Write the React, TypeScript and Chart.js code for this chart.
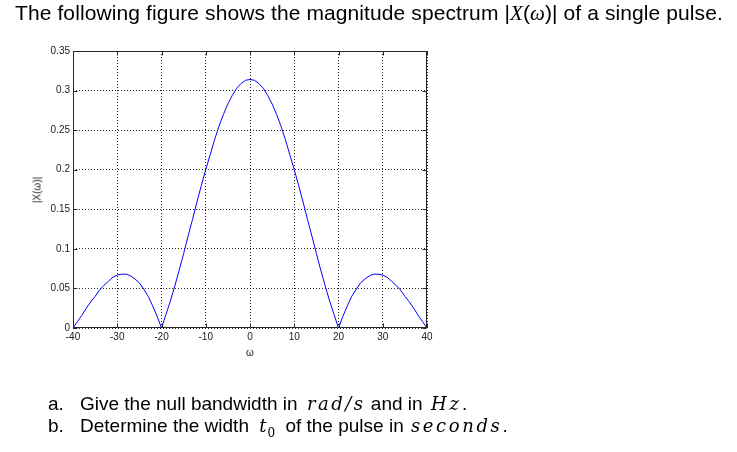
import React, { useEffect, useRef } from "react";
import { Chart, registerables } from "chart.js";

Chart.register(...registerables);

// ω values (rad/s)
const omega = [
  -40, -39, -38, -37, -36, -35, -34, -33, -32, -31, -30, -29, -28, -27, -26, -25, -24, -23, -22, -21,
  -20, -19, -18, -17, -16, -15, -14, -13, -12, -11, -10, -9, -8, -7, -6, -5, -4, -3, -2, -1,
  0, 1, 2, 3, 4, 5, 6, 7, 8, 9, 10, 11, 12, 13, 14, 15, 16, 17, 18, 19,
  20, 21, 22, 23, 24, 25, 26, 27, 28, 29, 30, 31, 32, 33, 34, 35, 36, 37, 38, 39, 40,
];

// |X(ω)|
const magnitude = [
  0.000, 0.008, 0.016, 0.025, 0.033, 0.040, 0.048, 0.054, 0.059, 0.064, 0.067, 0.068, 0.068, 0.066, 0.062, 0.057, 0.049, 0.040, 0.028, 0.015,
  0.000, 0.017, 0.034, 0.053, 0.073, 0.094, 0.116, 0.137, 0.159, 0.180, 0.200, 0.219, 0.238, 0.255, 0.270, 0.283, 0.294, 0.303, 0.309, 0.313,
  0.314, 0.313, 0.309, 0.303, 0.294, 0.283, 0.270, 0.255, 0.238, 0.219, 0.200, 0.180, 0.159, 0.137, 0.116, 0.094, 0.073, 0.053, 0.034, 0.017,
  0.000, 0.015, 0.028, 0.040, 0.049, 0.057, 0.062, 0.066, 0.068, 0.068, 0.067, 0.064, 0.059, 0.054, 0.048, 0.040, 0.033, 0.025, 0.016, 0.008, 0.000,
];

const xTicks = [-40, -30, -20, -10, 0, 10, 20, 30, 40];
const yTicks = [0, 0.05, 0.1, 0.15, 0.2, 0.25, 0.3, 0.35];

const TICK_FONT = "Liberation Sans, Arial, sans-serif";

const framePlugin = {
  id: "matlabFrame",
  afterDraw(chart: any) {
    const { ctx, chartArea: a, scales } = chart;
    ctx.save();
    ctx.strokeStyle = "#262626";
    ctx.lineWidth = 1;
    ctx.setLineDash([]);
    const l = Math.round(a.left) + 0.5;
    const r = Math.round(a.right) - 0.5;
    const t = Math.round(a.top) + 0.5;
    const b = Math.round(a.bottom) - 0.5;
    ctx.strokeRect(l, t, r - l, b - t);
    ctx.beginPath();
    for (const v of xTicks) {
      const x = Math.round(scales.x.getPixelForValue(v)) + 0.5;
      ctx.moveTo(x, b);
      ctx.lineTo(x, b - 4);
      ctx.moveTo(x, t);
      ctx.lineTo(x, t + 4);
    }
    for (const v of yTicks) {
      const y = Math.round(scales.y.getPixelForValue(v)) + 0.5;
      ctx.moveTo(l, y);
      ctx.lineTo(l + 4, y);
      ctx.moveTo(r, y);
      ctx.lineTo(r - 4, y);
    }
    ctx.stroke();
    ctx.restore();
  },
};

function ChartCanvas() {
  const ref = useRef<HTMLCanvasElement | null>(null);
  useEffect(() => {
    if (!ref.current) return;
    const data = omega.map((w, i) => ({ x: w, y: magnitude[i] }));
    const chart = new Chart(ref.current, {
      type: "line",
      data: {
        datasets: [
          {
            data,
            borderColor: "#0000ff",
            borderWidth: 1,
            pointRadius: 0,
            tension: 0,
            fill: false,
          },
        ],
      },
      options: {
        animation: false,
        responsive: false,
        maintainAspectRatio: false,
        events: [],
        layout: { padding: { left: 0, top: 51, right: 310, bottom: 94 } },
        plugins: { legend: { display: false }, tooltip: { enabled: false }, title: { display: false } },
        scales: {
          x: {
            type: "linear",
            min: -40,
            max: 40,
            afterFit: (s: any) => {
              s.height = 30;
            },
            afterBuildTicks: (s: any) => {
              s.ticks = xTicks.map((v) => ({ value: v }));
            },
            border: { display: false, dash: [1, 2] },
            grid: {
              color: "rgba(0,0,0,0.85)",
              lineWidth: 1,
              drawTicks: false,
            },
            ticks: {
              padding: 3,
              color: "#222",
              font: { family: TICK_FONT, size: 10 },
              maxRotation: 0,
              autoSkip: false,
              callback: (v: any) => String(v),
            },
          },
          y: {
            type: "linear",
            min: 0,
            max: 0.35,
            afterFit: (s: any) => {
              s.width = 73;
            },
            afterBuildTicks: (s: any) => {
              s.ticks = yTicks.map((v) => ({ value: v }));
            },
            border: { display: false, dash: [1, 2] },
            grid: {
              color: "rgba(0,0,0,0.85)",
              lineWidth: 1,
              drawTicks: false,
            },
            ticks: {
              padding: 3,
              color: "#222",
              font: { family: TICK_FONT, size: 10 },
              autoSkip: false,
              callback: (v: any) => String(Math.round(v * 100) / 100),
            },
          },
        },
      },
      plugins: [framePlugin],
    } as any);
    return () => chart.destroy();
  }, []);
  return (
    <canvas
      ref={ref}
      width={737}
      height={452}
      style={{ position: "absolute", left: 0, top: 0, width: 737, height: 452 }}
    />
  );
}

const sans: React.CSSProperties = { fontFamily: "Liberation Sans, Arial, sans-serif" };
const mathT: React.CSSProperties = { fontFamily: "Liberation Serif, DejaVu Serif, serif", fontStyle: "italic" };
const mathQ = (spacing: number): React.CSSProperties => ({
  fontFamily: "DejaVu Serif, Liberation Serif, serif",
  fontStyle: "italic",
  fontSize: 18,
  letterSpacing: `${spacing}px`,
});

export default function App() {
  useEffect(() => {
    document.body.style.margin = "0";
  }, []);
  return (
    <div style={{ position: "fixed", left: 0, top: 0, width: 737, height: 452, background: "#fff", overflow: "hidden" }}>
      <ChartCanvas />
      <div
        style={{
          ...sans,
          position: "absolute",
          left: 15,
          top: 1,
          fontSize: 21,
          letterSpacing: "0.1px",
          lineHeight: "24px",
          whiteSpace: "nowrap",
          color: "#000",
        }}
      >
        The following figure shows the magnitude spectrum |<span style={mathT}>X</span>(<span style={mathT}>ω</span>)| of a single pulse.
      </div>
      <div
        style={{
          position: "absolute",
          left: 37,
          top: 190,
          transform: "translate(-50%,-50%) rotate(-90deg)",
          fontFamily: TICK_FONT,
          fontSize: 10,
          color: "#222",
          whiteSpace: "nowrap",
        }}
      >
        |X(ω)|
      </div>
      <div
        style={{
          position: "absolute",
          left: 250,
          top: 352,
          transform: "translate(-50%,-50%)",
          fontFamily: TICK_FONT,
          fontSize: 10,
          color: "#222",
        }}
      >
        ω
      </div>
      <div style={{ ...sans, position: "absolute", left: 48, top: 393, fontSize: 19, lineHeight: "22px", whiteSpace: "nowrap" }}>
        <span style={{ display: "inline-block", width: 32 }}>a.</span>
        Give the null bandwidth in <span style={{ ...mathQ(2.5), marginLeft: 4 }}>rad/s</span> and in{" "}
        <span style={{ ...mathQ(3), marginLeft: 3 }}>Hz</span>.
      </div>
      <div style={{ ...sans, position: "absolute", left: 48, top: 415, fontSize: 19, lineHeight: "22px", whiteSpace: "nowrap" }}>
        <span style={{ display: "inline-block", width: 32 }}>b.</span>
        Determine the width <span style={{ ...mathQ(1), marginLeft: 5 }}>t</span>
        <sub style={{ fontFamily: "DejaVu Serif, serif", fontSize: 12, marginRight: 5 }}>0</sub> of the pulse in{" "}
        <span style={{ ...mathQ(2.6), marginLeft: 2 }}>seconds</span>.
      </div>
    </div>
  );
}
